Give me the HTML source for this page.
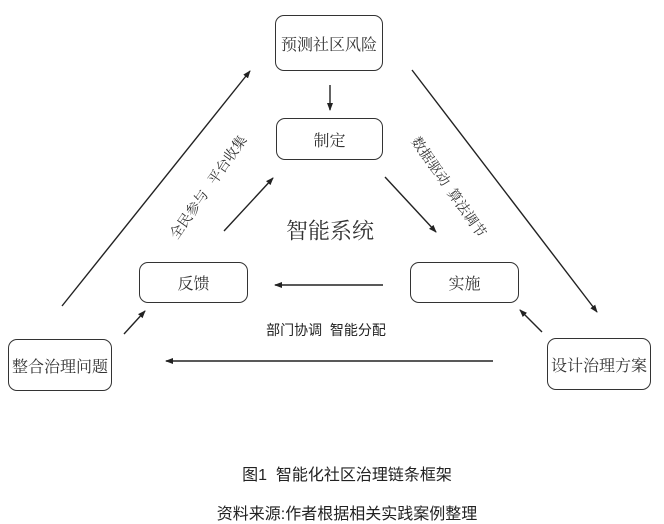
<!DOCTYPE html>
<html><head><meta charset="utf-8"><style>
body{margin:0;width:664px;height:524px;background:#fff;overflow:hidden;position:relative;font-family:"Liberation Serif","Noto Serif CJK SC",serif;color:#333}
.b{position:absolute;border:1.3px solid #333;border-radius:9px;box-sizing:border-box;display:flex;align-items:center;justify-content:center;font-size:16px;background:#fff}
.t{position:absolute;white-space:nowrap;transform:translate(-50%,-50%)}
.s{font-family:"Liberation Sans","Noto Sans CJK SC",sans-serif;color:#222}
</style></head><body>
<svg width="664" height="524" style="position:absolute;left:0;top:0">
<defs><marker id="a" markerWidth="8" markerHeight="8" refX="7" refY="4" orient="auto" markerUnits="userSpaceOnUse"><path d="M0,1 L8,4 L0,7 Z" fill="#222"/></marker></defs>
<g stroke="#222" stroke-width="1.4" fill="none" marker-end="url(#a)">
<line x1="330" y1="85" x2="330" y2="110"/>
<line x1="62" y1="306" x2="250" y2="71"/>
<line x1="412" y1="70" x2="597" y2="312"/>
<line x1="224" y1="231" x2="273" y2="178"/>
<line x1="385" y1="177" x2="436" y2="232"/>
<line x1="383" y1="285" x2="275" y2="285"/>
<line x1="124" y1="334" x2="145" y2="311"/>
<line x1="542" y1="332" x2="520" y2="310"/>
<line x1="493" y1="361" x2="166" y2="361"/>
</g></svg>
<div class="b" style="left:275px;top:15px;width:108px;height:56px">预测社区风险</div>
<div class="b" style="left:276px;top:118px;width:107px;height:42px">制定</div>
<div class="b" style="left:139px;top:262px;width:109px;height:41px">反馈</div>
<div class="b" style="left:410px;top:262px;width:109px;height:41px">实施</div>
<div class="b" style="left:8px;top:339px;width:104px;height:52px">整合治理问题</div>
<div class="b" style="left:547px;top:338px;width:104px;height:52px">设计治理方案</div>
<div class="t" style="left:330px;top:230px;font-size:22px">智能系统</div>
<div class="t" style="left:208px;top:187px;font-size:14px;transform:translate(-50%,-50%) rotate(-55deg)">全民参与&nbsp;&nbsp;&nbsp;平台收集</div>
<div class="t" style="left:449px;top:187px;font-size:14px;transform:translate(-50%,-50%) rotate(55deg)">数据驱动&nbsp;&nbsp;算法调节</div>
<div class="t s" style="left:326px;top:330px;font-size:14px">部门协调&nbsp;&nbsp;智能分配</div>
<div class="t s" style="left:347px;top:473px;font-size:16px">图1&nbsp;&nbsp;智能化社区治理链条框架</div>
<div class="t s" style="left:347px;top:512px;font-size:16px">资料来源:作者根据相关实践案例整理</div>
</body></html>
